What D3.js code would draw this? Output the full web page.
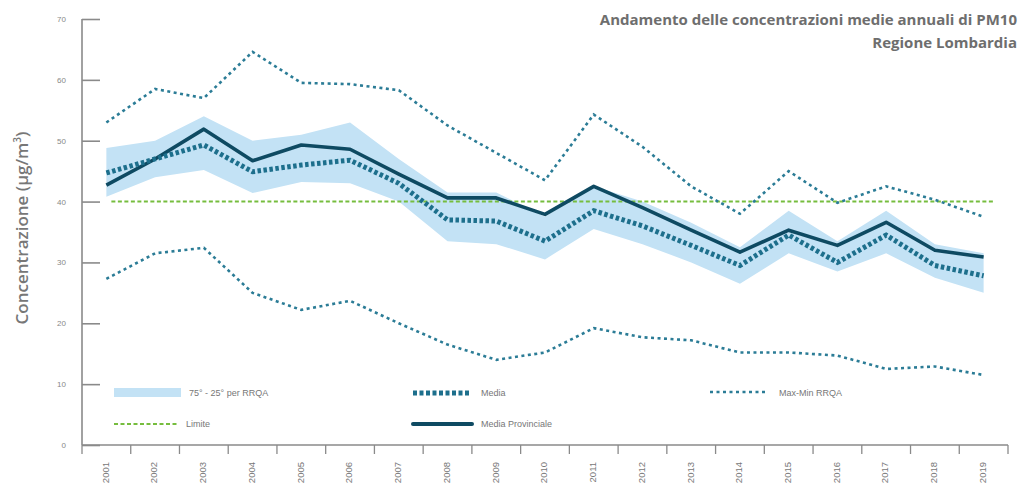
<!DOCTYPE html>
<html>
<head>
<meta charset="utf-8">
<script src="https://cdn.jsdelivr.net/npm/d3@7"></script>
<style>
  body { margin: 0; background: #fff; overflow: hidden; }
  svg { display: block; font-family: "Open Sans", "Noto Sans", sans-serif; }
</style>
</head>
<body>
<div id="chart"></div>
<script>
const years = ["2001", "2002", "2003", "2004", "2005", "2006", "2007", "2008", "2009", "2010",
  "2011", "2012", "2013", "2014", "2015", "2016", "2017", "2018", "2019"];
const mediaProvinciale = [42.7, 47, 51.9, 46.7, 49.3, 48.6, 44.5, 40.6, 40.6, 37.9,
  42.5, 39, 35.3, 31.7, 35.3, 32.8, 36.6, 32, 30.9];
const media = [44.7, 47, 49.3, 44.9, 46, 46.8, 43, 37, 36.8, 33.5,
  38.5, 36, 32.8, 29.5, 34.5, 30, 34.5, 29.5, 27.8];
const p75 = [48.8, 50, 54, 50, 51, 53, 47, 41.5, 41.5, 37.5,
  42.5, 40, 36.5, 32.5, 38.5, 33.5, 38.5, 33, 31.5];
const p25 = [40.8, 44, 45.2, 41.4, 43.2, 43, 40, 33.5, 33, 30.5,
  35.5, 33, 30, 26.5, 31.5, 28.5, 31.5, 27.5, 25];
const maxRRQA = [53, 58.5, 57, 64.6, 59.5, 59.3, 58.3, 52.5, 48, 43.5,
  54.3, 49, 42.5, 38, 45, 39.8, 42.5, 40.3, 37.5];
const minRRQA = [27.3, 31.5, 32.4, 25, 22.2, 23.7, 20, 16.5, 14, 15.2,
  19.2, 17.7, 17.2, 15.2, 15.2, 14.7, 12.5, 12.9, 11.5];
const limite = 40;
const yTicks = [0, 10, 20, 30, 40, 50, 60, 70];

const width = 1025;
const height = 484;

const svg = d3.select("#chart").append("svg")
  .attr("width", width)
  .attr("height", height);

const x = d3.scaleBand().domain(years).range([82, 1008]).padding(0);
const y = d3.scaleLinear().domain([0, 70]).range([445, 19]);
const cx = (i) => x(years[i]) + x.bandwidth() / 2;

// band 75-25 percentile
const area = d3.area()
  .x((d, i) => cx(i))
  .y0((d, i) => y(p25[i]))
  .y1((d) => y(d));
svg.append("path")
  .datum(p75)
  .attr("d", area)
  .attr("fill", "#c3e2f5");

const line = d3.line().x((d, i) => cx(i)).y((d) => y(d));

// limit
svg.append("line")
  .attr("x1", cx(0) + 5).attr("x2", cx(years.length - 1) + 10)
  .attr("y1", y(limite)).attr("y2", y(limite))
  .attr("stroke", "#76bd3e")
  .attr("stroke-width", 2)
  .attr("stroke-dasharray", "4 2.5");

// max / min
[maxRRQA, minRRQA].forEach((s) => {
  svg.append("path")
    .datum(s)
    .attr("d", line)
    .attr("fill", "none")
    .attr("stroke", "#2b7c96")
    .attr("stroke-width", 2.6)
    .attr("stroke-dasharray", "3 3.5");
});

// media provinciale
svg.append("path")
  .datum(mediaProvinciale)
  .attr("d", line)
  .attr("fill", "none")
  .attr("stroke", "#0e4a62")
  .attr("stroke-width", 3.6)
  .attr("stroke-linejoin", "round");

// media
svg.append("path")
  .datum(media)
  .attr("d", line)
  .attr("fill", "none")
  .attr("stroke", "#1d6f8c")
  .attr("stroke-width", 5)
  .attr("stroke-dasharray", "3.5 2.5");

// Y axis
const yAxis = d3.axisLeft(y).tickValues(yTicks).tickSize(-18).tickPadding(16);
const gy = svg.append("g").attr("transform", "translate(82,0)").call(yAxis);
gy.select(".domain").attr("stroke", "#8a8a8a").attr("stroke-width", 1.6)
  .attr("d", `M0,${y(70)}V${y(0)}`);
gy.selectAll(".tick line").attr("stroke", "#8a8a8a").attr("stroke-width", 1.6);
gy.selectAll(".tick text").attr("fill", "#888").style("font-size", "8px")
  .style("font-family", "Liberation Sans, sans-serif");

// X axis
svg.append("line")
  .attr("x1", 82).attr("x2", 1008)
  .attr("y1", y(0)).attr("y2", y(0))
  .attr("stroke", "#8a8a8a").attr("stroke-width", 1.6);
svg.append("g").selectAll("line")
  .data(years.concat(["end"]))
  .join("line")
  .attr("x1", (d) => d === "end" ? x.range()[1] : x(d))
  .attr("x2", (d) => d === "end" ? x.range()[1] : x(d))
  .attr("y1", y(0)).attr("y2", y(0) + 9)
  .attr("stroke", "#8a8a8a").attr("stroke-width", 1.3);
svg.append("g").selectAll("text")
  .data(years)
  .join("text")
  .attr("transform", (d, i) => `translate(${cx(i) - 1},462) rotate(-90)`)
  .attr("text-anchor", "end")
  .attr("dy", "0.35em")
  .attr("fill", "#777")
  .style("font-size", "9.5px")
  .style("font-family", "Liberation Sans Narrow, Liberation Sans, sans-serif")
  .text((d) => d);

// Y title
svg.append("text")
  .attr("transform", "translate(28,228) rotate(-90)")
  .attr("text-anchor", "middle")
  .attr("fill", "#777")
  .style("font-size", "17px")
  .style("font-weight", "600")
  .html('Concentrazione (µg/m<tspan dy="-7" font-size="10">3</tspan><tspan dy="7">)</tspan>');

// Title
const title = svg.append("g").attr("fill", "#6e6e6e")
  .style("font-size", "15px").style("font-weight", "bold");
title.append("text").attr("x", 1017).attr("y", 25).attr("text-anchor", "end")
  .text("Andamento delle concentrazioni medie annuali di PM10");
title.append("text").attr("x", 1017).attr("y", 48).attr("text-anchor", "end")
  .text("Regione Lombardia");

// Legend
const lg = svg.append("g").style("font-size", "9px").attr("fill", "#777")
  .style("font-family", "Liberation Sans Narrow, Liberation Sans, sans-serif");
lg.append("rect").attr("x", 114).attr("y", 388).attr("width", 67).attr("height", 9)
  .attr("fill", "#c3e2f5");
lg.append("text").attr("x", 189).attr("y", 396).text("75° - 25° per RRQA");

lg.append("line").attr("x1", 413).attr("x2", 470).attr("y1", 393).attr("y2", 393)
  .attr("stroke", "#1d6f8c").attr("stroke-width", 5).attr("stroke-dasharray", "4 2.5");
lg.append("text").attr("x", 481).attr("y", 396).text("Media");

lg.append("line").attr("x1", 710).attr("x2", 768).attr("y1", 392).attr("y2", 392)
  .attr("stroke", "#2b7c96").attr("stroke-width", 2.6).attr("stroke-dasharray", "3 3.5");
lg.append("text").attr("x", 779).attr("y", 396).text("Max-Min RRQA");

lg.append("line").attr("x1", 114).attr("x2", 177).attr("y1", 424).attr("y2", 424)
  .attr("stroke", "#76bd3e").attr("stroke-width", 2.2).attr("stroke-dasharray", "4 2.5");
lg.append("text").attr("x", 186).attr("y", 427).text("Limite");

lg.append("line").attr("x1", 413).attr("x2", 472).attr("y1", 424).attr("y2", 424)
  .attr("stroke", "#0e4a62").attr("stroke-width", 4).attr("stroke-linecap", "round");
lg.append("text").attr("x", 481).attr("y", 427).text("Media Provinciale");
</script>
</body>
</html>
